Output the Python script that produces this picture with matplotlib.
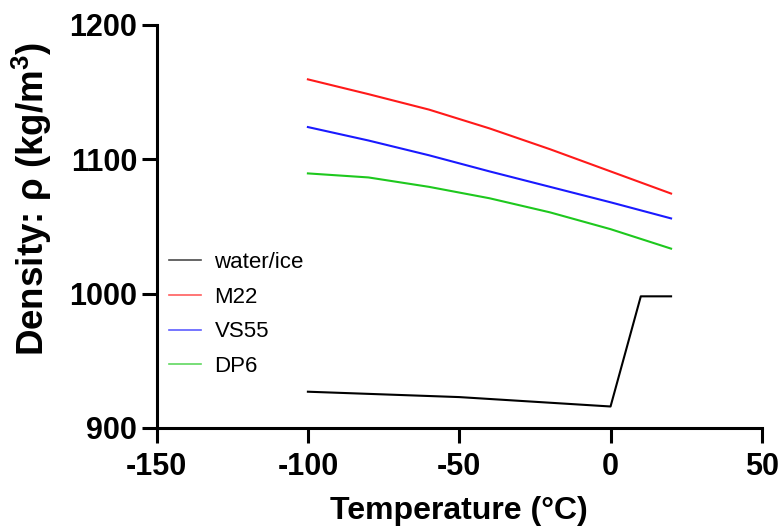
import matplotlib
matplotlib.use("Agg")
import matplotlib.pyplot as plt

# Data
temp = [-100, -80, -60, -40, -20, 0, 20]
m22 = [1159.5, 1148.5, 1137, 1123, 1107.5, 1091, 1074.5]
vs55 = [1124, 1114, 1103, 1091, 1079.5, 1068, 1056]
dp6 = [1089.5, 1086.5, 1079.5, 1071, 1060.5, 1048, 1033.5]

water_temp = [-100, -50, 0, 10, 20]
water = [927, 923, 916, 998, 998]

plt.rcParams["font.family"] = ["Liberation Sans", "DejaVu Sans"]
plt.rcParams["axes.unicode_minus"] = False
plt.rcParams["mathtext.fontset"] = "custom"
plt.rcParams["mathtext.rm"] = "Liberation Sans"
plt.rcParams["mathtext.bf"] = "Liberation Sans:bold"

fig = plt.figure(figsize=(7.79, 5.31), dpi=100)
ax = fig.add_axes([0.201, 0.194, 0.777, 0.759])

ax.plot(water_temp, water, color="black", lw=1.5, label="water/ice")
ax.plot(temp, m22, color="#ff1a1a", lw=1.5, label="M22")
ax.plot(temp, vs55, color="#1a1aff", lw=1.5, label="VS55")
ax.plot(temp, dp6, color="#1ec81e", lw=1.5, label="DP6")

ax.set_xlim(-150, 50)
ax.set_ylim(900, 1200)
ax.set_xticks([-150, -100, -50, 0, 50])
ax.set_yticks([900, 1000, 1100, 1200])

for s in ["top", "right"]:
    ax.spines[s].set_visible(False)
for s in ["left", "bottom"]:
    ax.spines[s].set_linewidth(2.2)

ax.tick_params(width=2.2, length=11, labelsize=22)
ax.tick_params(axis="x", pad=6.5)
ax.tick_params(axis="y", pad=3)
for lab in ax.get_xticklabels() + ax.get_yticklabels():
    lab.set_fontweight("bold")

ax.set_xlabel("Temperature (°C)", fontsize=23, fontweight="bold", labelpad=10)
ax.set_ylabel(r"Density: ρ (kg/m$^\mathbf{3}$)", fontsize=26.5, fontweight="bold")
ax.yaxis.set_label_coords(-0.17, 0.568)

leg = ax.legend(loc="center left", bbox_to_anchor=(0.002, 0.2816), frameon=False,
                borderpad=0, fontsize=16, handlelength=1.45, handletextpad=0.6,
                labelspacing=0.62)
for h in leg.get_lines():
    h.set_linewidth(1.2)
    h.set_alpha(0.7)

fig.savefig("out.png", dpi=100)
